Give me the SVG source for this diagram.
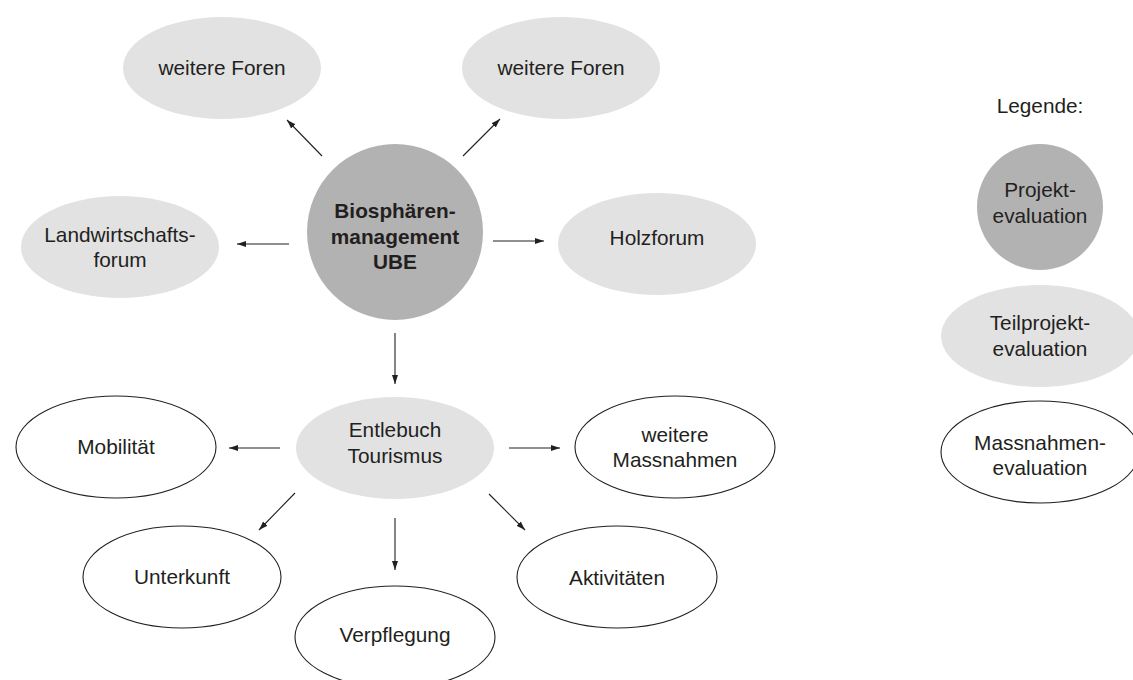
<svg xmlns="http://www.w3.org/2000/svg" width="1133" height="680" viewBox="0 0 1133 680">
<defs>
<marker id="ah" markerWidth="10" markerHeight="8" refX="9" refY="4" orient="auto" markerUnits="userSpaceOnUse">
<path d="M0,1 L9,4 L0,7 Z" fill="#231f20"/>
</marker>
<style>
text{font-family:"Liberation Sans",Arial,sans-serif;font-size:20.8px;fill:#231f20;text-anchor:middle}
.b{font-weight:bold}
.dark{fill:#b2b2b2}
.light{fill:#e2e2e3}
.white{fill:#ffffff;stroke:#231f20;stroke-width:1.1}
.con line{stroke:#231f20;stroke-width:1.1;marker-end:url(#ah)}
</style>
</defs>
<rect width="1133" height="680" fill="#ffffff"/>
<g id="biosphaere">
<circle class="dark" cx="395" cy="232" r="88"/>
<text class="b" x="395" y="218">Biosphären-</text>
<text class="b" x="395" y="244">management</text>
<text class="b" x="395" y="269">UBE</text>
</g>
<g id="foren-links">
<ellipse class="light" cx="222" cy="68" rx="99" ry="51"/>
<text x="222" y="75">weitere Foren</text>
</g>
<g id="foren-rechts">
<ellipse class="light" cx="561" cy="68" rx="99" ry="51"/>
<text x="561" y="75">weitere Foren</text>
</g>
<g id="landwirtschaft">
<ellipse class="light" cx="120" cy="247" rx="99" ry="51"/>
<text x="120" y="242">Landwirtschafts-</text>
<text x="120" y="267">forum</text>
</g>
<g id="holzforum">
<ellipse class="light" cx="657" cy="244" rx="99" ry="51"/>
<text x="657" y="245">Holzforum</text>
</g>
<g id="tourismus">
<ellipse class="light" cx="395" cy="448" rx="99" ry="51"/>
<text x="395" y="437">Entlebuch</text>
<text x="395" y="463">Tourismus</text>
</g>
<g id="mobilitaet">
<ellipse class="white" cx="116" cy="447" rx="100" ry="51"/>
<text x="116" y="454">Mobilität</text>
</g>
<g id="massnahmen">
<ellipse class="white" cx="675" cy="447" rx="100" ry="51"/>
<text x="675" y="442">weitere</text>
<text x="675" y="467">Massnahmen</text>
</g>
<g id="unterkunft">
<ellipse class="white" cx="182" cy="577" rx="99" ry="51"/>
<text x="182" y="584">Unterkunft</text>
</g>
<g id="aktivitaeten">
<ellipse class="white" cx="617" cy="577" rx="100" ry="51"/>
<text x="617" y="585">Aktivitäten</text>
</g>
<g id="verpflegung">
<ellipse class="white" cx="395" cy="637" rx="100" ry="51"/>
<text x="395" y="642">Verpflegung</text>
</g>
<g class="con" id="connectors">
<line x1="322" y1="156" x2="287" y2="120"/>
<line x1="463" y1="156" x2="500" y2="119"/>
<line x1="289" y1="244" x2="237" y2="244"/>
<line x1="493" y1="241" x2="544" y2="241"/>
<line x1="395" y1="333" x2="395" y2="384"/>
<line x1="280" y1="448" x2="229" y2="448"/>
<line x1="509" y1="448" x2="560" y2="448"/>
<line x1="295" y1="493" x2="259" y2="530"/>
<line x1="395" y1="518" x2="395" y2="570"/>
<line x1="489" y1="494" x2="525" y2="530"/>
</g>
<g id="legende">
<text x="1040" y="113">Legende:</text>
</g>
<g id="legende-projekt">
<circle class="dark" cx="1040" cy="207" r="63"/>
<text x="1040" y="197">Projekt-</text>
<text x="1040" y="223">evaluation</text>
</g>
<g id="legende-teilprojekt">
<ellipse class="light" cx="1040" cy="336" rx="99" ry="51"/>
<text x="1040" y="330">Teilprojekt-</text>
<text x="1040" y="356">evaluation</text>
</g>
<g id="legende-massnahmen">
<ellipse class="white" cx="1040" cy="452" rx="99" ry="51"/>
<text x="1040" y="450">Massnahmen-</text>
<text x="1040" y="475">evaluation</text>
</g>
</svg>
